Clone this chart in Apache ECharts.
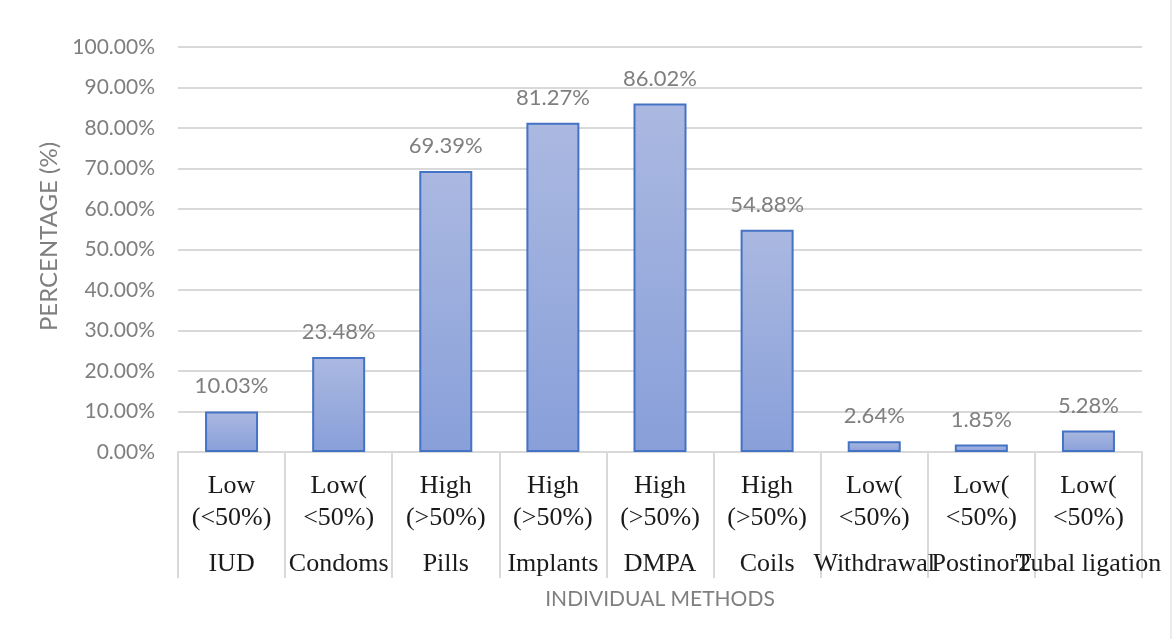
<!DOCTYPE html>
<html>
<head>
<meta charset="utf-8">
<script src="https://cdn.jsdelivr.net/npm/echarts@6/dist/echarts.min.js"></script>
<style>
  html, body { margin: 0; padding: 0; background: #fff; }
  #chart { width: 1172px; height: 639px; }
</style>
</head>
<body>
<div id="chart"></div>
<script>
// Contraceptive methods and the share of respondents for each
const methods = ['IUD', 'Condoms', 'Pills', 'Implants', 'DMPA', 'Coils', 'Withdrawal', 'Postinor2', 'Tubal ligation'];
const levels = ['Low\n(<50%)', 'Low(\n<50%)', 'High\n(>50%)', 'High\n(>50%)', 'High\n(>50%)', 'High\n(>50%)', 'Low(\n<50%)', 'Low(\n<50%)', 'Low(\n<50%)'];
const percentages = [10.03, 23.48, 69.39, 81.27, 86.02, 54.88, 2.64, 1.85, 5.28];
const yTicks = { min: 0, max: 100, interval: 10 };

const grey = '#7f7f7f';
const uiFont = 'Lato, "Open Sans", sans-serif';

const chart = echarts.init(document.getElementById('chart'));
chart.setOption({
  animation: false,
  grid: { left: 178, right: 30, top: 47, bottom: 187 },
  graphic: [{
    type: 'line',
    shape: { x1: 1171, y1: 0, x2: 1171, y2: 639 },
    style: { stroke: '#d9d9d9', lineWidth: 1 }
  }],
  xAxis: {
    type: 'category',
    data: methods,
    name: 'INDIVIDUAL METHODS',
    nameLocation: 'middle',
    nameGap: 137,
    nameTextStyle: { color: grey, fontSize: 21, fontFamily: uiFont },
    axisLine: { lineStyle: { color: '#d9d9d9', width: 2 } },
    axisTick: { show: true, length: 126, lineStyle: { color: '#d9d9d9', width: 2 } },
    axisLabel: {
      interval: 0,
      margin: 18,
      formatter: function (value, idx) {
        const parts = levels[idx].split('\n');
        return '{a|' + parts[0] + '}\n{a|' + parts[1] + '}\n{b|' + value + '}';
      },
      rich: {
        a: { fontFamily: '"Liberation Serif", serif', fontSize: 26, color: '#1a1a1a', lineHeight: 32 },
        b: { fontFamily: '"Liberation Serif", serif', fontSize: 26, color: '#1a1a1a', lineHeight: 60 }
      }
    }
  },
  yAxis: {
    type: 'value',
    min: yTicks.min,
    max: yTicks.max,
    interval: yTicks.interval,
    name: 'PERCENTAGE (%)',
    nameLocation: 'middle',
    nameGap: 117,
    nameTextStyle: { color: grey, fontSize: 24, fontFamily: uiFont, padding: [0, 0, 0, 26] },
    axisLine: { show: false },
    axisTick: { show: false },
    axisLabel: {
      margin: 23,
      color: grey,
      fontSize: 21,
      fontFamily: uiFont,
      formatter: v => v.toFixed(2) + '%'
    },
    splitLine: { lineStyle: { color: '#d9d9d9', width: 2 } }
  },
  series: [{
    type: 'bar',
    data: percentages,
    barWidth: 53,
    itemStyle: {
      color: new echarts.graphic.LinearGradient(0, 0, 0, 1, [
        { offset: 0, color: '#abb9e1' },
        { offset: 1, color: '#889fd9' }
      ]),
      borderColor: '#4472c4',
      borderWidth: 2
    },
    label: {
      show: true,
      position: 'top',
      distance: 14,
      color: grey,
      fontSize: 22,
      fontFamily: uiFont,
      formatter: p => p.value.toFixed(2) + '%'
    }
  }]
});
</script>
</body>
</html>
